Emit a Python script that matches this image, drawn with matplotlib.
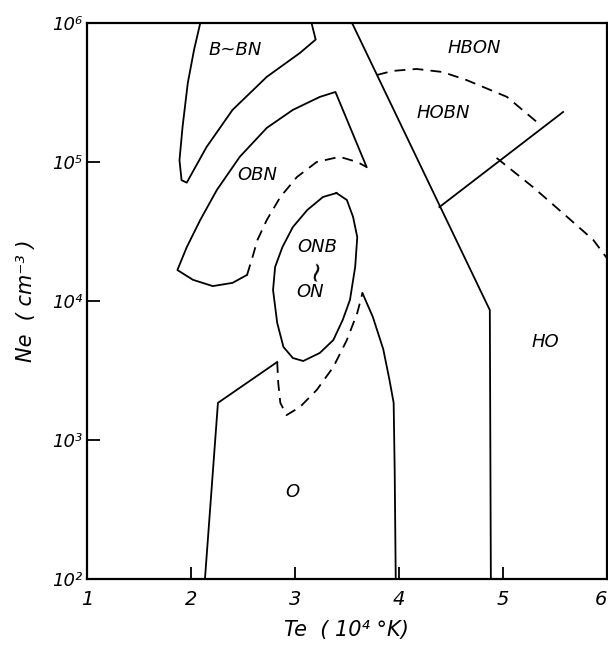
import matplotlib
matplotlib.use("Agg")
import matplotlib.pyplot as plt

# ---- data (Te in 10^4 K, Ne in cm^-3) ----
bbn_T = [2.09, 2.03, 1.97, 1.92, 1.89, 1.91, 1.96, 2.01, 2.15, 2.40, 2.73, 3.05, 3.20, 3.16]
bbn_N = [1e6, 6.4e5, 3.7e5, 1.8e5, 1.03e5, 7.4e4, 7.1e4, 8.3e4, 1.28e5, 2.37e5, 4.1e5, 6.1e5, 7.6e5, 1e6]

obn_T = [2.54, 2.40, 2.21, 2.02, 1.87, 1.96, 2.09, 2.25, 2.47, 2.73, 2.98, 3.24, 3.39, 3.69]
obn_N = [1.54e4, 1.35e4, 1.28e4, 1.42e4, 1.67e4, 2.44e4, 3.83e4, 6.3e4, 1.09e5, 1.76e5, 2.37e5, 2.94e5, 3.19e5, 9.2e4]

obn_dash_T = [2.54, 2.59, 2.64, 2.73, 2.86, 3.02, 3.21, 3.43, 3.60, 3.69]
obn_dash_N = [1.54e4, 2.04e4, 2.75e4, 3.83e4, 5.6e4, 7.8e4, 1.0e5, 1.09e5, 1.0e5, 9.2e4]

onb_T = [3.40, 3.50, 3.56, 3.60, 3.58, 3.53, 3.46, 3.37, 3.24, 3.08, 2.98, 2.89, 2.83, 2.79, 2.81, 2.88, 2.98, 3.12, 3.27, 3.40]
onb_N = [5.98e4, 5.33e4, 4.02e4, 2.88e4, 1.76e4, 1.02e4, 7.3e3, 5.24e3, 4.23e3, 3.70e3, 3.89e3, 4.67e3, 6.95e3, 1.2e4, 1.76e4, 2.44e4, 3.40e4, 4.52e4, 5.6e4, 5.98e4]

o_left_T = [2.135, 2.26, 2.83]
o_left_N = [1e2, 1.85e3, 3.64e3]

o_dash_T = [2.83, 2.84, 2.86, 2.92, 3.05, 3.21, 3.37, 3.50, 3.60, 3.65]
o_dash_N = [3.64e3, 2.57e3, 1.85e3, 1.51e3, 1.73e3, 2.29e3, 3.35e3, 5.24e3, 8.2e3, 1.14e4]

o_right_T = [3.65, 3.75, 3.85, 3.91, 3.95, 3.96, 3.97]
o_right_N = [1.14e4, 7.67e3, 4.5e3, 2.7e3, 1.85e3, 6.0e2, 1e2]

diag_T = [3.55, 4.875, 4.885]
diag_N = [1e6, 8.6e3, 1e2]

hobn_T = [4.39, 5.58]
hobn_N = [4.74e4, 2.29e5]

hobn_dash_T = [3.79, 3.94, 4.17, 4.42, 4.65, 5.04, 5.36]
hobn_dash_N = [4.23e5, 4.52e5, 4.67e5, 4.44e5, 3.89e5, 2.94e5, 1.85e5]

ho_dash_T = [4.94, 5.29, 5.62, 5.87, 6.0]
ho_dash_N = [1.07e5, 6.6e4, 4.02e4, 2.75e4, 2.04e4]

labels = ["B~BN", "OBN", "ONB", "ON", "O", "HBON", "HOBN", "HO"]
label_T = [2.43, 2.64, 3.22, 3.15, 2.98, 4.73, 4.43, 5.41]
label_N = [6.4e5, 8.05e4, 2.44e4, 1.16e4, 4.2e2, 6.6e5, 2.25e5, 5.1e3]

sep_label = "~"
sep_T = 3.20
sep_N = 1.70e4

xticks = [1, 2, 3, 4, 5, 6]
yticks = [1e2, 1e3, 1e4, 1e5, 1e6]
ytick_labels = ["10\u00b2", "10\u00b3", "10\u2074", "10\u2075", "10\u2076"]

# ---- figure ----
fig = plt.figure(figsize=(6.08, 6.48), dpi=100)
ax = fig.add_axes([0.143, 0.1065, 0.855, 0.858])
ax.set_yscale("log")
ax.set_xlim(1, 6)
ax.set_ylim(1e2, 1e6)

solid = dict(color="black", lw=1.3, solid_joinstyle="round")
dashed = dict(color="black", lw=1.3, linestyle=(0, (6, 4)))

ax.plot(bbn_T, bbn_N, **solid)
ax.plot(obn_T, obn_N, **solid)
ax.plot(obn_dash_T, obn_dash_N, **dashed)
ax.plot(onb_T, onb_N, **solid)
ax.plot(o_left_T, o_left_N, **solid)
ax.plot(o_dash_T, o_dash_N, **dashed)
ax.plot(o_right_T, o_right_N, **solid)
ax.plot(diag_T, diag_N, **solid)
ax.plot(hobn_T, hobn_N, **solid)
ax.plot(hobn_dash_T, hobn_dash_N, **dashed)
ax.plot(ho_dash_T, ho_dash_N, **dashed)

for s, t, n in zip(labels, label_T, label_N):
    ax.text(t, n, s, ha="center", va="center", fontsize=13,
            style="italic", family="DejaVu Sans")
ax.text(sep_T, sep_N, sep_label, ha="center", va="center", fontsize=20,
        rotation=80, family="DejaVu Sans")

for sp in ax.spines.values():
    sp.set_linewidth(1.6)

ax.set_xticks(xticks)
ax.set_xticklabels([str(v) for v in xticks], fontsize=14, style="italic")
ax.get_xticklabels()[-1].set_horizontalalignment("right")
ax.set_yticks(yticks)
ax.set_yticklabels(ytick_labels, fontsize=13, style="italic")
ax.minorticks_off()
ax.tick_params(axis="x", direction="in", length=9, width=1.3, pad=8)
ax.tick_params(axis="y", direction="in", length=9, width=1.3, pad=3)

ax.set_xlabel("Te  ( 10\u2074 \u00b0K)", fontsize=15, style="italic", labelpad=8)
ax.set_ylabel("Ne  ( cm\u207b\u00b3 )", fontsize=15, style="italic", labelpad=12)

fig.savefig("out.png", dpi=100)
